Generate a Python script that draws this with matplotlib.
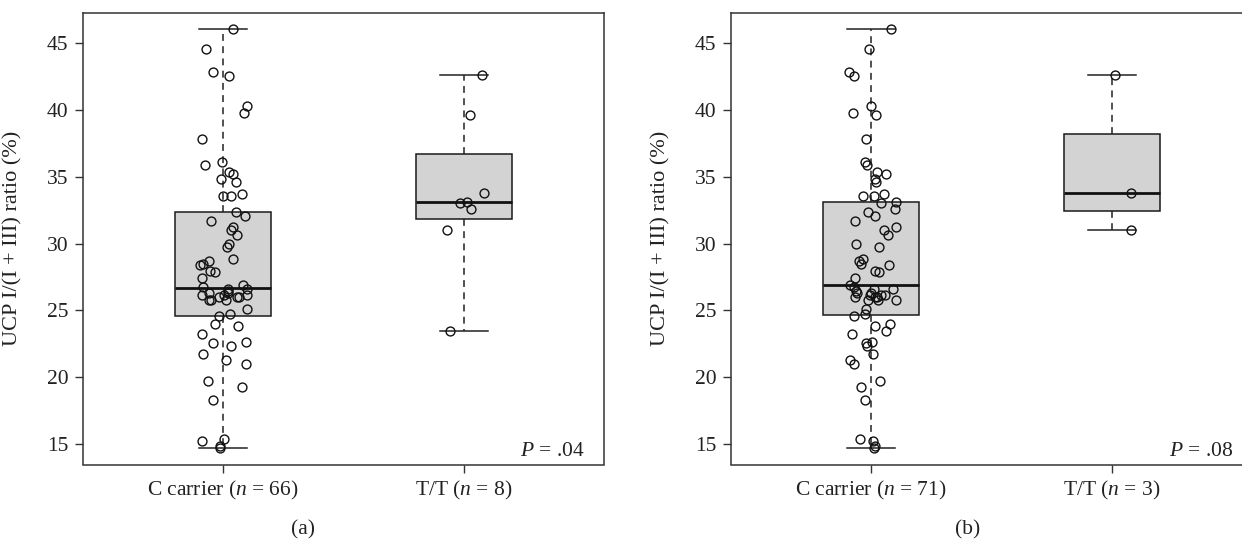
import numpy as np
import matplotlib
matplotlib.use("Agg")
import matplotlib.pyplot as plt

plt.rcParams['font.family'] = ['Liberation Serif', 'DejaVu Serif']
plt.rcParams['mathtext.fontset'] = 'custom'
plt.rcParams['mathtext.rm'] = 'Liberation Serif'
plt.rcParams['mathtext.it'] = 'Liberation Serif:italic'

# ---------------- data ----------------
categories = ["C carrier", "T/T"]
y_label = "UCP I/(I + III) ratio (%)"
y_ticks = [15, 20, 25, 30, 35, 40, 45]

# panel (a)
a_c_values = [46.0, 44.53, 42.83, 42.51, 40.29, 39.77, 37.82, 36.1, 35.86,
              35.31, 35.18, 34.79, 34.58, 33.56, 33.56, 33.71, 32.32, 32.07, 31.69,
              31.24, 30.99, 30.62, 30.0, 29.75, 28.85, 28.7, 28.4, 28.5, 27.95, 27.85, 27.44,
              26.74, 26.64, 26.46, 26.94, 26.6, 26.14, 26.27, 25.82, 25.8, 25.97, 26.14,
              25.77, 26.27, 26.02, 26.0, 26.14, 25.14, 24.62, 24.72,
              23.97, 23.82, 23.28, 22.58, 22.33, 22.65, 21.78, 21.33, 20.98, 19.74,
              19.29, 18.32, 15.25, 15.4, 14.85, 14.75]
a_c_jitter = [0.04, -0.071, -0.039, 0.026, 0.10, 0.089, -0.086, -0.004, -0.075,
              0.027, 0.041, -0.008, 0.055, 0.0, 0.035, 0.079, 0.055, 0.09, -0.048,
              0.041, 0.035, 0.06, 0.025, 0.019, 0.041, -0.057, -0.096, -0.082, -0.052, -0.032, -0.086,
              -0.082, 0.023, 0.023, 0.085, 0.098, -0.086, -0.056, -0.059, -0.05, -0.018, 0.003,
              0.012, 0.023, 0.06, 0.065, 0.098, 0.10, -0.018, 0.03,
              -0.032, 0.064, -0.086, -0.043, 0.035, 0.094, -0.082, 0.012, 0.094, -0.061,
              0.079, -0.043, -0.086, 0.003, -0.012, -0.012]
a_t_values = [42.6, 39.6, 33.8, 33.1, 33.05, 32.6, 31.0, 23.5]
a_t_jitter = [0.075, 0.026, 0.084, 0.012, -0.018, 0.03, -0.071, -0.06]
a_p_text = "$P$ = .04"

# panel (b)
b_c_values = [46.0, 44.53, 42.83, 42.51, 40.29, 39.77, 39.6, 37.82, 36.1, 35.86,
              35.31, 35.18, 34.79, 34.58, 33.56, 33.56, 33.71, 33.1, 33.05, 32.6,
              32.32, 32.07, 31.69, 31.24, 30.99, 30.62, 30.0, 29.75, 28.85, 28.7,
              28.5, 28.4, 27.95, 27.85, 27.44,
              26.94, 26.74, 26.64, 26.6, 26.46, 26.27, 26.27, 26.14, 26.14, 26.14,
              26.02, 26.0, 25.97, 25.82, 25.8, 25.77, 25.14, 24.72, 24.62,
              23.97, 23.82, 23.5, 23.28, 22.65, 22.58, 22.33, 21.78, 21.33, 20.98,
              19.74, 19.29, 18.32, 15.4, 15.25, 14.85, 14.75]
b_c_jitter = [0.084, -0.007, -0.09, -0.068, 0.0, -0.074, 0.023, -0.02, -0.026, -0.018,
              0.026, 0.061, 0.019, 0.023, -0.033, 0.012, 0.053, 0.105, 0.043, 0.10,
              -0.012, 0.019, -0.064, 0.105, 0.053, 0.071, -0.06, 0.033, -0.031, -0.048,
              -0.042, 0.073, 0.016, 0.033, -0.064,
              -0.085, -0.07, 0.012, 0.092, -0.062, -0.056, 0.0, -0.005, 0.04, 0.06,
              -0.065, 0.015, 0.025, -0.012, 0.03, 0.105, -0.022, -0.026, -0.072,
              0.081, 0.019, 0.061, -0.079, 0.003, -0.02, -0.015, 0.008, -0.086, -0.07,
              0.037, -0.041, -0.026, -0.045, 0.008, 0.015, 0.012]
b_t_values = [42.6, 33.8, 31.0]
b_t_jitter = [0.011, 0.078, 0.078]
b_p_text = "$P$ = .08"

a_ns = [len(a_c_values), len(a_t_values)]
b_ns = [len(b_c_values), len(b_t_values)]


def fivenum(x):
    x = np.sort(np.asarray(x, float))
    n = len(x)
    n4 = np.floor((n + 3) / 2) / 2
    d = np.array([1, n4, (n + 1) / 2, n + 1 - n4, n]) - 1
    return 0.5 * (x[np.floor(d).astype(int)] + x[np.ceil(d).astype(int)])


def draw_panel(ax, groups, jitters, ns, ptext):
    stats = []
    for g in groups:
        f = fivenum(g)
        stats.append(dict(whislo=f[0], q1=f[1], med=f[2], q3=f[3], whishi=f[4], fliers=[]))
    ax.bxp(stats, positions=[1, 2], widths=0.4, capwidths=0.2, patch_artist=True,
           showfliers=False,
           boxprops=dict(facecolor='#d3d3d3', edgecolor='#1a1a1a', linewidth=1.1),
           medianprops=dict(color='#111111', linewidth=2.0),
           whiskerprops=dict(color='#222222', linewidth=1.1, linestyle=(0, (4.5, 3.5))),
           capprops=dict(color='#222222', linewidth=1.1))
    for i, (g, j) in enumerate(zip(groups, jitters)):
        xs = (i + 1) + np.asarray(j)
        ax.plot(xs, g, linestyle='none', marker='o', markersize=6.4,
                markerfacecolor='none', markeredgecolor='#111111', markeredgewidth=1.0,
                zorder=5)
    ax.set_xlim(0.42, 2.58)
    allv = np.concatenate([np.asarray(g) for g in groups])
    lo, hi = allv.min(), allv.max()
    r = hi - lo
    ax.set_ylim(lo - 0.04 * r, hi + 0.04 * r)
    ax.set_yticks(y_ticks)
    ax.set_xticks([1, 2])
    ax.set_xticklabels([f"{c} ($n$ = {n})" for c, n in zip(categories, ns)])
    ax.tick_params(axis='both', labelsize=15.5, length=5.5, width=1.0,
                   color='#333333', labelcolor='#222222')
    ax.tick_params(axis='x', pad=5)
    ax.tick_params(axis='y', pad=5)
    for s in ax.spines.values():
        s.set_linewidth(1.1)
        s.set_color('#333333')
    ax.set_ylabel(y_label, fontsize=16, color='#222222')
    ax.yaxis.set_label_coords(-0.117, 0.5)
    ax.text(0.9635, 0.018, ptext, transform=ax.transAxes, ha='right', va='baseline',
            fontsize=15.5, color='#222222')


fig = plt.figure(figsize=(12.42, 5.42), dpi=100)
W, H = 1242.0, 542.0
ax_a = fig.add_axes([83 / W, (H - 464.5) / H, 521 / W, 452 / H])
ax_b = fig.add_axes([731 / W, (H - 464.5) / H, 521 / W, 452 / H])

draw_panel(ax_a, [a_c_values, a_t_values], [a_c_jitter, a_t_jitter], a_ns, a_p_text)
draw_panel(ax_b, [b_c_values, b_t_values], [b_c_jitter, b_t_jitter], b_ns, b_p_text)

fig.text(303 / W, (H - 530) / H, "(a)", ha='center', va='center', fontsize=15.5, color='#222222')
fig.text(968 / W, (H - 530) / H, "(b)", ha='center', va='center', fontsize=15.5, color='#222222')

fig.savefig("out.png", dpi=100)
